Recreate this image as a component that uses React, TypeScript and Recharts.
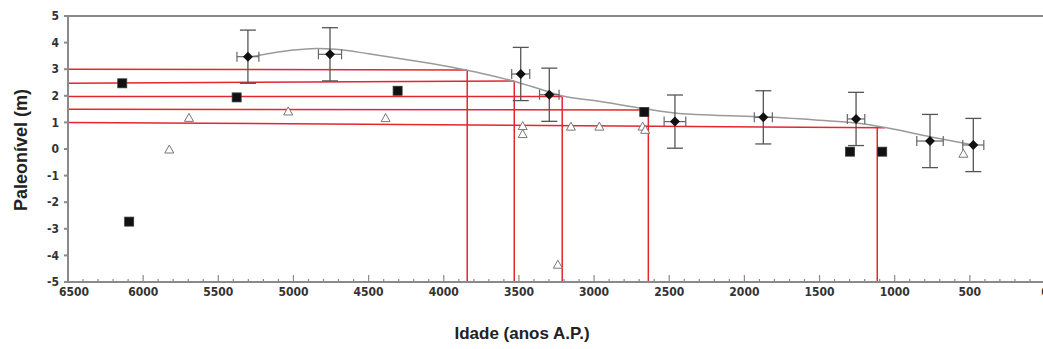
import React from 'react';
import { ComposedChart, XAxis, YAxis, Scatter, Line, ErrorBar, ReferenceLine, Label } from 'recharts';

// Dated sea-level indicators with error bars (diamonds)
const diamondAge = [5303, 4757, 3488, 3298, 2462, 1874, 1257, 765, 477];
const diamondLevel = [3.47, 3.56, 2.82, 2.04, 1.03, 1.19, 1.13, 0.3, 0.15];
const diamondAgeErr = [73, 77, 60, 65, 72, 60, 58, 88, 70];
const diamondLevelErr = [1, 1, 1, 1, 1, 1, 1, 1, 1];

// Black squares
const squareAge = [6139, 6093, 5378, 4307, 2666, 1297, 1083];
const squareLevel = [2.47, -2.73, 1.94, 2.19, 1.39, -0.1, -0.1];

// Open triangles
const triangleAge = [5826, 5695, 5035, 4387, 3475, 3475, 3241, 3154, 2965, 2677, 2660, 543];
const triangleLevel = [0.0, 1.19, 1.43, 1.18, 0.88, 0.58, -4.33, 0.86, 0.86, 0.86, 0.74, -0.16];

// Smoothed sea-level curve (grey)
const curveAge = [5300, 5150, 5000, 4850, 4700, 4500, 4200, 4000, 3850, 3700, 3540, 3340, 3200, 3000, 2670, 2450, 2200, 1874, 1500, 1257, 1053, 765, 477];
const curveLevel = [3.45, 3.6, 3.72, 3.78, 3.74, 3.58, 3.32, 3.13, 2.97, 2.78, 2.56, 2.22, 1.98, 1.82, 1.52, 1.34, 1.27, 1.21, 1.08, 0.98, 0.8, 0.46, 0.15];

// Red construction lines
const redStartAge = [6500, 6500, 6500, 6500, 6500];
const redLevelLeft = [3.0, 2.47, 1.97, 1.49, 1.0];
const redLevelRight = [2.97, 2.56, 1.97, 1.47, 0.8];
const redEndAge = [3844, 3531, 3212, 2639, 1065];
const redDropAge = [3844, 3531, 3212, 2639, 1116];
const redDropTop = [2.97, 2.56, 1.97, 1.47, 0.82];

const xMajorTicks = [0, 500, 1000, 1500, 2000, 2500, 3000, 3500, 4000, 4500, 5000, 5500, 6000, 6500];
const xMinorStep = 100;
const xTicks = Array.from({ length: 6500 / xMinorStep + 1 }, (_, i) => i * xMinorStep);
const yTicks = [-5, -4, -3, -2, -1, 0, 1, 2, 3, 4, 5];

const diamonds = diamondAge.map((x, i) => ({ x, y: diamondLevel[i], ex: diamondAgeErr[i], ey: diamondLevelErr[i] }));
const squares = squareAge.map((x, i) => ({ x, y: squareLevel[i] }));
const triangles = triangleAge.map((x, i) => ({ x, y: triangleLevel[i] }));
const curve = curveAge.map((x, i) => ({ x, y: curveLevel[i] }));

const AXIS = '#8a8a8a';
const RED = '#e3262f';
const TICK_FONT = '"Liberation Sans Narrow", "DejaVu Sans Condensed", "Liberation Sans", Arial, sans-serif';
const TITLE_FONT = '"Liberation Sans", Arial, sans-serif';

const XTick = (props: any) => {
  const { x, y, payload } = props;
  const v = payload.value as number;
  const major = xMajorTicks.includes(v);
  const shift = v === 6500 ? 6 : 0;
  return (
    <g>
      <line x1={x} x2={x} y1={y} y2={y - (major ? 7 : 3)} stroke={AXIS} strokeWidth={1.2} />
      {major && (
        <text x={x + shift} y={y + 14} textAnchor="middle" fontFamily={TICK_FONT} fontWeight="bold" fontSize={12} fill="#333">
          {v}
        </text>
      )}
    </g>
  );
};

const Diamond = (props: any) => {
  const { cx, cy } = props;
  const s = 5;
  return <path d={`M${cx},${cy - s}L${cx + s},${cy}L${cx},${cy + s}L${cx - s},${cy}Z`} fill="#111" />;
};

const Square = (props: any) => {
  const { cx, cy } = props;
  const s = 4.5;
  return <rect x={cx - s} y={cy - s} width={2 * s} height={2 * s} fill="#111" stroke="#333" strokeWidth={0.8} />;
};

const Triangle = (props: any) => {
  const { cx, cy } = props;
  const w = 4.5;
  const h = 4;
  return <path d={`M${cx},${cy - h}L${cx + w},${cy + h}L${cx - w},${cy + h}Z`} fill="#fff" stroke="#777" strokeWidth={1} />;
};

export default function App() {
  return (
    <div style={{ position: 'absolute', left: 0, top: 0, width: 1043, height: 349, overflow: 'hidden', background: '#fff' }}>
      <ComposedChart width={1060} height={349} margin={{ top: 16, right: 15, bottom: 37, left: 8 }}>
        <XAxis
          type="number"
          dataKey="x"
          domain={[0, 6500]}
          reversed
          ticks={xTicks}
          interval={0}
          tickSize={0}
          tickMargin={0}
          tickLine={false}
          tick={<XTick />}
          height={30}
          stroke={AXIS}
          strokeWidth={2}
          allowDataOverflow
        >
          <Label
            content={() => (
              <text x={522} y={333} textAnchor="middle" dominantBaseline="central" fontFamily={TITLE_FONT} fontWeight="bold" fontSize={17} fill="#222">
                Idade (anos A.P.)
              </text>
            )}
          />
        </XAxis>
        <YAxis
          type="number"
          domain={[-5, 5]}
          ticks={yTicks}
          interval={0}
          width={60}
          tickSize={4}
          tickMargin={5}
          stroke={AXIS}
          strokeWidth={2}
          tick={{ fontFamily: TICK_FONT, fontWeight: 'bold', fontSize: 12, fill: '#333' }}
          allowDataOverflow
        >
          <Label
            content={() => (
              <text x={21} y={150} transform="rotate(-90 21 150)" textAnchor="middle" dominantBaseline="central" fontFamily={TITLE_FONT} fontWeight="bold" fontSize={18} fill="#222">
                Paleonível (m)
              </text>
            )}
          />
        </YAxis>
        <ReferenceLine y={5} stroke={AXIS} strokeWidth={2} />
        {redLevelLeft.map((lv, i) => (
          <ReferenceLine
            key={`h${i}`}
            segment={[{ x: redStartAge[i], y: lv }, { x: redEndAge[i], y: redLevelRight[i] }]}
            stroke={RED}
            strokeWidth={1.5}
          />
        ))}
        {redDropAge.map((ag, i) => (
          <ReferenceLine
            key={`v${i}`}
            segment={[{ x: ag, y: redDropTop[i] }, { x: ag, y: -5 }]}
            stroke={RED}
            strokeWidth={1.5}
          />
        ))}
        <Line data={curve} dataKey="y" type="monotone" stroke="#9a9a9a" strokeWidth={1.5} dot={false} isAnimationActive={false} />
        <Scatter data={triangles} dataKey="y" shape={<Triangle />} isAnimationActive={false} />
        <Scatter data={squares} dataKey="y" shape={<Square />} isAnimationActive={false} />
        <Scatter data={diamonds} dataKey="y" shape={<Diamond />} isAnimationActive={false}>
          <ErrorBar dataKey="ey" direction="y" width={8} stroke="#555" strokeWidth={1.3} isAnimationActive={false} />
          <ErrorBar dataKey="ex" direction="x" width={5} stroke="#666" strokeWidth={1.2} isAnimationActive={false} />
        </Scatter>
      </ComposedChart>
    </div>
  );
}
